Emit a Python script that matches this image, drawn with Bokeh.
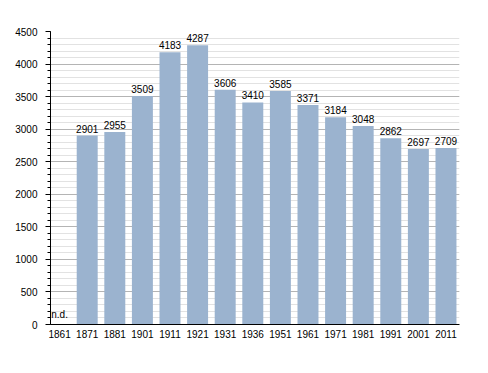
from bokeh.plotting import figure
from bokeh.models import ColumnDataSource, FixedTicker, SingleIntervalTicker, Range1d
from bokeh.core.properties import value
from bokeh.embed import file_html
from bokeh.resources import INLINE

years = ["1861", "1871", "1881", "1901", "1911", "1921", "1931", "1936", "1951",
         "1961", "1971", "1981", "1991", "2001", "2011"]
population = [None, 2901, 2955, 3509, 4183, 4287, 3606, 3410, 3585,
              3371, 3184, 3048, 2862, 2697, 2709]
missing_label = "n.d."

FONT = "Liberation Sans"
BAR_COLOR = "#9bb3cf"

idx = [i for i, v in enumerate(population) if v is not None]
src = ColumnDataSource(dict(
    x=idx,
    top=[population[i] for i in idx],
    label=[str(population[i]) for i in idx],
))

p = figure(width=480, height=365, output_backend="svg", toolbar_location=None,
           x_range=Range1d(-0.33, 14.49), y_range=Range1d(0, 4500),
           min_border_left=50, min_border_right=21, min_border_top=31,
           min_border_bottom=41)
p.outline_line_color = None
p.background_fill_color = "white"

p.vbar(x="x", top="top", bottom=0, width=0.76, source=src,
       fill_color=BAR_COLOR, line_color=None)
p.text(x="x", y="top", text="label", source=src, text_align="center",
       text_baseline="bottom", y_offset=-3, text_font=value(FONT),
       text_font_size="10px", text_color="black")
missing_idx = [i for i, v in enumerate(population) if v is None]
p.text(x=missing_idx, y=[0] * len(missing_idx), text=[missing_label] * len(missing_idx),
       text_align="center", text_baseline="bottom", y_offset=-5,
       text_font=value(FONT), text_font_size="10px", text_color="black")

# x axis
p.xaxis.ticker = FixedTicker(ticks=list(range(len(years))))
p.xaxis.major_label_overrides = {i: y for i, y in enumerate(years)}
p.xaxis.major_tick_line_color = None
p.xaxis.minor_tick_line_color = None
p.xaxis.major_tick_out = 0
p.xaxis.major_tick_in = 0
p.xaxis.major_label_standoff = 5
p.xaxis.axis_line_color = "black"
p.xaxis.major_label_text_font = FONT
p.xaxis.major_label_text_font_size = "10px"
p.xaxis.major_label_text_color = "black"
p.xgrid.grid_line_color = None

# y axis
p.yaxis.ticker = SingleIntervalTicker(interval=500, num_minor_ticks=5)
p.yaxis.major_tick_out = 5
p.yaxis.major_tick_in = 0
p.yaxis.minor_tick_out = 3
p.yaxis.minor_tick_in = 0
p.yaxis.major_label_standoff = 8
p.yaxis.axis_line_color = "black"
p.yaxis.major_tick_line_color = "black"
p.yaxis.minor_tick_line_color = "black"
p.yaxis.major_label_text_font = FONT
p.yaxis.major_label_text_font_size = "10px"
p.yaxis.major_label_text_color = "black"
p.ygrid.grid_line_color = "#b4b4b4"
p.ygrid.minor_grid_line_color = "#e2e2e2"

open("out.html", "w").write(file_html(p, INLINE))
